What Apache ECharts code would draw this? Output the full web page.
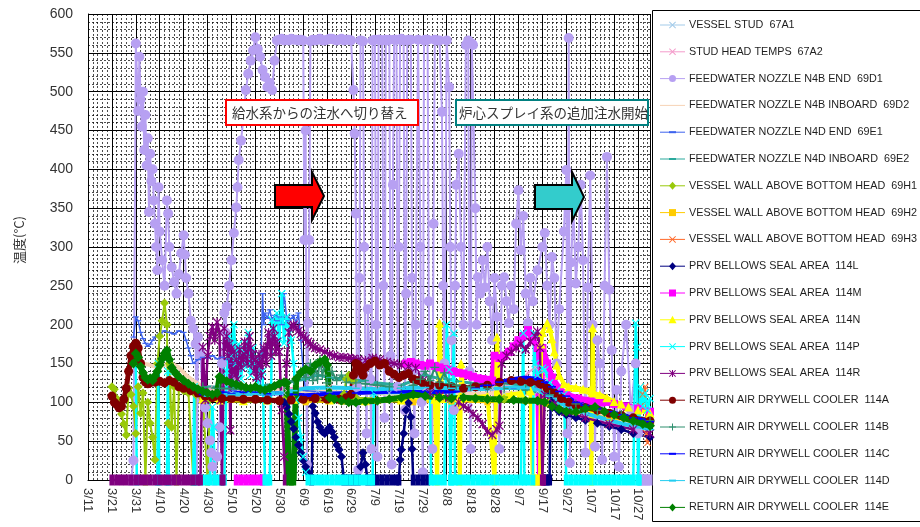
<!DOCTYPE html>
<html><head><meta charset="utf-8">
<script src="https://cdn.jsdelivr.net/npm/echarts/dist/echarts.min.js"></script>
<style>html,body{margin:0;padding:0;background:#fff}#chart{width:920px;height:527px}</style>
</head><body><div id="chart"></div>
<script>
// Reactor vessel temperatures, 2011-03-11 .. 2011-11-01 (day 0 = 3/11)
const tickLabels = ['3/11','3/21','3/31','4/10','4/20','4/30','5/10','5/20','5/30','6/9','6/19','6/29',
  '7/9','7/19','7/29','8/8','8/18','8/28','9/7','9/17','9/27','10/7','10/17','10/27'];
const yTicks = [0, 50, 100, 150, 200, 250, 300, 350, 400, 450, 500, 550, 600];

const vesselStud67A1 = [['4/28',115],['5/10',112],['5/20',110],['6/1',112],['6/15',115],['7/1',113],['7/15',112],['8/1',111],['8/15',110],['9/1',112],['9/15',114],['9/25',100],['10/5',88],['10/15',78],['10/25',70],['11/1',66]];

const studHead67A2 = [['5/1',118],['5/15',116],['6/1',118],['6/20',120],['7/10',119],['7/30',118],['8/15',117],['8/27',118],['8/29',60],['8/31',120],['9/8',128],['9/11',138],['9/14',145],['9/17',140],['9/19',130],['9/24',112],['10/5',95],['10/15',85],['10/25',78],['11/1',72]];

const fwN4BEnd69D1 = [['3/29',0],['3/30',25],['3/31',562],['4/1',475],['4/1.5',545],['4/2',490],['4/2.5',455],['4/3',500],['4/3.5',425],['4/4',470],['4/4.5',405],['4/5',440],['4/5.5',345],['4/6',420],['4/6.5',385],['4/7',400],['4/7.5',360],['4/8',330],['4/8.5',300],['4/9',270],['4/9.5',377],['4/10',320],['4/11',283],['4/12',250],['4/13',360],['4/13.5',343],['4/14',300],['4/15',274],['4/16',255],['4/17',240],['4/18',265],['4/19',292],['4/20',315],['4/20.5',290],['4/21',260],['4/22',240],['4/23',205],['4/24',195],['4/25',175],['4/25.5',0],['4/26',184],['4/27',163],['4/28',103],['4/29',93],['4/30',73],['5/1',51],['5/1.5',35],['5/2',17],['5/3',0],['5/4',30],['5/5',68],['5/6',150],['5/7',215],['5/7.5',190],['5/8',223],['5/9',250],['5/10',283],['5/11',318],['5/12',351],['5/12.5',377],['5/13',412],['5/14',437],['5/15',467],['5/16',502],['5/17',523],['5/18',540],['5/19',553],['5/20',570],['5/21',555],['5/22',545],['5/23',528],['5/24',519],['5/25',506],['5/26',511],['5/27',502],['5/28',540],['5/29',566],['5/30',567],['5/31',568],['6/1',566],['6/2',567],['6/3',566],['6/4',568],['6/5',567],['6/6',567],['6/7',566],['6/8',567],['6/9',566],['6/9.5',309],['6/10',450],['6/10.5',20],['6/11',202],['6/11.5',309],['6/12',565],['6/13',567],['6/14',566],['6/15',567],['6/16',568],['6/17',566],['6/18',566],['6/19',567],['6/20',568],['6/21',568],['6/22',567],['6/23',566],['6/24',567],['6/25',568],['6/26',566],['6/27',567],['6/28',567],['6/29',566],['6/30',502],['6/30.5',446],['7/1',343],['7/1.5',120],['7/2',13],['7/2.5',260],['7/3',566],['7/4',565],['7/4.5',300],['7/5',150],['7/5.5',60],['7/6',220],['7/7',130],['7/7.5',40],['7/8',566],['7/9',567],['7/9.5',200],['7/10',30],['7/10.5',567],['7/11',567],['7/12',566],['7/12.5',250],['7/13',80],['7/13.5',567],['7/14',566],['7/15',567],['7/15.5',160],['7/16',20],['7/16.5',380],['7/17',567],['7/18',567],['7/18.5',120],['7/19',300],['7/19.5',567],['7/20',568],['7/21',566],['7/21.5',90],['7/22',240],['7/22.5',566],['7/23',567],['7/24',567],['7/24.5',260],['7/25',140],['7/25.5',60],['7/26',200],['7/27',567],['7/28',300],['7/28.5',100],['7/29',10],['7/29.5',566],['7/30',567],['7/31',567],['7/31.5',230],['8/1',120],['8/2',40],['8/2.5',330],['8/3',567],['8/4',566],['8/5',566],['8/6',474],['8/6.5',250],['8/7',150],['8/8',566],['8/9',506],['8/9.5',300],['8/10',180],['8/11',90],['8/11.5',250],['8/12',380],['8/13',420],['8/14',300],['8/15',200],['8/16',560],['8/17',566],['8/17.5',140],['8/18',40],['8/18.5',562],['8/19',560],['8/20',350],['8/20.5',200],['8/21',261],['8/22',240],['8/23',283],['8/24',248],['8/25',300],['8/26',230],['8/27',180],['8/28',260],['8/29',210],['8/30',40],['8/31',250],['9/1',261],['9/2',230],['9/3',202],['9/4',250],['9/5',220],['9/6',330],['9/7',373],['9/8',296],['9/9',340],['9/10',240],['9/11',202],['9/12',260],['9/13',230],['9/15',270],['9/17',300],['9/18',318],['9/19',250],['9/20',200],['9/21',287],['9/22',260],['9/23',150],['9/24',220],['9/26',320],['9/27',399],['9/27.5',60],['9/28',569],['9/28.5',22],['9/29',280],['9/30',350],['10/1',253],['10/2',300],['10/3',380],['10/4',283],['10/5',35],['10/6',248],['10/7',392],['10/8',200],['10/9',43],['10/10',180],['10/11',150],['10/12',26],['10/13',250],['10/14',416],['10/15',245],['10/16',167],['10/17',30],['10/18',116],['10/19',17],['10/20',140],['10/22',200],['10/24',90],['10/26',150],['10/27',60],['10/28',0],['10/29',0],['10/30',0],['10/31',0],['11/1',0]];

const fwN4BInboard69D2 = [['3/29',150],['3/31',160],['4/3',150],['4/6',148],['4/9',145],['4/12',148],['4/15',150],['4/18',145],['4/21',135],['4/24',128],['4/27',122],['4/30',118],['5/10',116],['6/1',115],['7/1',112],['8/1',110],['9/1',112],['9/20',110],['10/10',85],['11/1',70]];

const fwN4DEnd69E1 = [['3/30',184],['3/31',210],['4/1',205],['4/2',190],['4/3',182],['4/4',176],['4/5',172],['4/6',175],['4/7',180],['4/8',184],['4/10',188],['4/12',192],['4/14',190],['4/16',188],['4/18',192],['4/20',190],['4/21',180],['4/22',170],['4/23',160],['4/24',150],['4/26',155],['4/28',158],['4/30',157],['5/2',160],['5/4',156],['5/6',158],['5/8',155],['5/10',150],['5/11',115],['5/15',112],['5/20',113],['5/22',112],['5/23',240],['5/23.5',200],['5/24',215],['5/25',208],['5/26',219],['5/27',206],['5/28',212],['5/29',205],['5/30',210],['5/31',200],['6/1',240],['6/2',210],['6/3',205],['6/4',208],['6/5',212],['6/6',202],['6/7',215],['6/8',180],['6/9',140],['6/10',115],['6/20',113],['7/10',114],['8/1',115],['8/20',116],['9/5',118],['9/20',112],['10/5',92],['10/20',80],['11/1',72]];

const fwN4DInboard69E2 = [['4/30',120],['5/15',118],['6/1',125],['6/10',130],['6/15',135],['6/20',132],['6/25',130],['6/29',128],['7/5',128],['7/10',125],['7/20',122],['7/25',128],['7/30',135],['8/3',132],['8/8',130],['8/13',127],['8/18',125],['8/25',123],['9/1',125],['9/8',122],['9/15',120],['9/22',112],['10/1',100],['10/10',92],['10/20',85],['11/1',78]];

const wall69H1 = [['3/21',120],['3/22',117],['3/23',105],['3/24',98],['3/25',85],['3/26',72],['3/27',58],['3/28',118],['3/29',110],['3/30',95],['3/31',60],['4/1',120],['4/2',86],['4/3',112],['4/4',0],['4/5',100],['4/6',73],['4/7',55],['4/8',26],['4/9',150],['4/10',185],['4/11',205],['4/12',228],['4/13',200],['4/13.5',73],['4/14',150],['4/15',68],['4/16',120],['4/17',0],['4/18',118],['4/20',115],['4/22',112],['4/24',0],['4/25',110],['4/28',105],['4/30',0],['5/1',104],['5/15',103],['6/1',103],['6/15',104],['6/26',110],['6/27',130],['6/28',135],['6/29',133],['6/30',128],['7/1',106],['7/20',104],['8/10',103],['9/1',104],['9/20',100],['10/10',88],['11/1',72]];

const wall69H2 = [['4/28',102],['5/10',103],['5/25',102],['6/10',100],['6/25',101],['7/10',102],['7/25',100],['8/10',101],['8/25',100],['9/10',102],['9/20',98],['10/1',88],['10/15',80],['11/1',72]];

const wall69H3 = [['10/28',95],['10/29',110],['10/30',120],['10/30.5',60],['10/31',48],['11/1',75]];

const prv114L = [['6/1',100],['6/2',94],['6/3',85],['6/4',75],['6/5',66],['6/6',55],['6/7',45],['6/8',35],['6/9',25],['6/10',17],['6/11',10],['6/12',5],['6/12.5',0],['6/13',95],['6/14',86],['6/15',75],['6/16',68],['6/17',62],['6/18',60],['6/19',64],['6/20',68],['6/21',62],['6/22',55],['6/23',45],['6/24',39],['6/25',30],['6/26',0],['6/28',0],['6/30',0],['7/2',0],['7/3',17],['7/4',35],['7/5',20],['7/6',0],['7/8',0],['7/10',0],['7/12',0],['7/14',0],['7/16',0],['7/18',0],['7/19',0],['7/19.5',26],['7/20',39],['7/21',60],['7/22',90],['7/23',99],['7/24',81],['7/24.5',40],['7/25',0],['7/27',0],['7/29',0],['7/31',0],['7/31.5',null],['9/17',0],['9/18',0],['9/19',0],['9/20',0],['9/20.5',110],['9/21',100],['9/22',94],['9/24',88],['9/27',84],['10/1',80],['10/5',77],['10/10',73],['10/15',69],['10/20',65],['10/25',60],['11/1',55]];

const prv114M = [['5/12',0],['5/14',0],['5/16',0],['5/18',0],['5/20',0],['5/22',0],['5/23',0],['5/23.5',null],['7/22',150],['7/24',152],['7/26',150],['7/28',148],['7/30',147],['8/1',150],['8/3',147],['8/5',145],['8/7',143],['8/9',142],['8/11',140],['8/13',138],['8/15',137],['8/17',135],['8/19',133],['8/21',131],['8/23',130],['8/25',129],['8/27',128],['8/28',160],['8/30',157],['9/1',160],['9/3',165],['9/5',172],['9/7',180],['9/9',185],['9/11',193],['9/13',180],['9/15',170],['9/16',0],['9/16.5',0],['9/17',170],['9/19',150],['9/21',132],['9/24',118],['9/27',110],['10/2',105],['10/7',102],['10/12',100],['10/17',98],['10/22',95],['10/27',92],['11/1',88]];

const prv114N = [['4/28',105],['5/5',103],['5/15',102],['5/25',103],['6/5',104],['6/20',103],['7/5',102],['7/20',103],['8/3',104],['8/4',0],['8/5',202],['8/6',105],['8/13',106],['8/13.5',0],['8/14',150],['8/15',106],['8/20',107],['8/25',108],['8/28',0],['8/29',184],['8/30',108],['9/4',110],['9/8',112],['9/12',115],['9/13',0],['9/14',0],['9/15',0],['9/16',0],['9/16.5',175],['9/17',190],['9/19',202],['9/20',195],['9/21',182],['9/22',165],['9/23',148],['9/24',135],['9/26',124],['9/28',120],['10/1',119],['10/4',117],['10/7',116],['10/7.5',0],['10/8',196],['10/8.5',112],['10/11',110],['10/14',106],['10/17',101],['10/20',98],['10/23',94],['10/27',90],['11/1',86]];

const prv114P = [['3/31',150],['3/31.4',0],['4/9',0],['4/9.4',150],['4/9.8',0],['4/13',0],['4/13.4',140],['4/13.8',0],['4/24',0],['4/24.4',120],['4/24.8',0],['4/28',0],['4/30',0],['5/1',0],['5/2',94],['5/2.5',68],['5/3',0],['5/5',0],['5/7',0],['5/8',140],['5/9',185],['5/10',160],['5/11',200],['5/12',150],['5/13',175],['5/14',130],['5/15',165],['5/16',145],['5/17',190],['5/18',135],['5/19',170],['5/20',150],['5/21',125],['5/22',160],['5/23',140],['5/24',0],['5/25',0],['5/26',0],['5/27',206],['5/28',190],['5/29',215],['5/30',180],['5/31',240],['6/1',176],['6/2',210],['6/3',195],['6/4',180],['6/5',150],['6/6',103],['6/7',80],['6/8',55],['6/9',30],['6/10',10],['6/11',0],['6/13',0],['6/15',0],['6/17',0],['6/19',0],['6/21',0],['6/23',0],['6/25',0],['6/27',0],['6/29',0],['7/1',0],['7/3',0],['7/5',0],['7/7',0],['7/8',0],['7/8.5',112],['8/1',112],['8/1.5',0],['8/3',0],['8/5',0],['8/7',0],['8/8',200],['8/9',142],['8/9.5',0],['8/10',0],['8/11',189],['8/11.5',0],['8/13',0],['8/15',0],['8/17',0],['8/19',0],['8/21',0],['8/23',0],['8/25',0],['8/27',0],['8/29',0],['8/31',0],['9/2',0],['9/4',0],['9/6',0],['9/8',0],['9/9',189],['9/9.5',0],['9/11',0],['9/13',0],['9/13.5',189],['9/14',150],['9/15',135],['9/17',144],['9/18',142],['9/20',125],['9/23',115],['9/26',110],['9/27',0],['9/29',0],['10/1',0],['10/3',0],['10/5',0],['10/7',0],['10/9',0],['10/11',0],['10/13',0],['10/15',0],['10/17',0],['10/19',0],['10/21',0],['10/23',0],['10/25',0],['10/26',202],['10/26.5',171],['10/27',0],['10/27.5',0],['10/28',120],['10/29',95],['10/30',112],['10/31',90],['11/1',105]];

const prv114R = [['3/21',0],['3/23',0],['3/25',0],['3/27',0],['3/29',0],['3/31',0],['4/2',0],['4/4',0],['4/6',0],['4/8',0],['4/10',0],['4/12',0],['4/14',0],['4/16',0],['4/18',0],['4/20',0],['4/22',0],['4/24',0],['4/26',0],['4/27',0],['4/28',171],['4/29',103],['4/30',160],['5/1',185],['5/2',197],['5/3',180],['5/4',203],['5/5',190],['5/5.5',103],['5/6',0],['5/6.5',0],['5/7',195],['5/7.5',172],['5/8',185],['5/8.5',160],['5/9',175],['5/9.5',64],['5/10',170],['5/10.5',140],['5/11',165],['5/11.5',135],['5/12',155],['5/12.5',130],['5/13',150],['5/13.5',168],['5/14',145],['5/14.5',160],['5/15',155],['5/15.5',178],['5/16',165],['5/16.5',150],['5/17',172],['5/17.5',185],['5/18',170],['5/18.5',150],['5/19',162],['5/19.5',140],['5/20',155],['5/20.5',132],['5/21',150],['5/21.5',162],['5/22',148],['5/22.5',135],['5/23',155],['5/23.5',170],['5/24',165],['5/24.5',150],['5/25',172],['5/25.5',190],['5/26',180],['5/26.5',160],['5/27',175],['5/27.5',195],['5/28',185],['5/28.5',165],['5/29',178],['5/30',165],['5/31',90],['6/1',30],['6/1.5',0],['6/2',150],['6/3',190],['6/4',198],['6/5',200],['6/6',196],['6/7',192],['6/8',188],['6/9',185],['6/10',182],['6/11',178],['6/12',175],['6/13',172],['6/14',170],['6/16',168],['6/18',165],['6/20',162],['6/22',160],['6/24',158],['6/26',158],['6/28',157],['6/30',156],['7/2',155],['7/5',154],['7/8',157],['7/11',155],['7/14',152],['7/17',150],['7/20',148],['7/23',146],['7/26',144],['7/29',128],['8/1',112],['8/5',108],['8/9',106],['8/13',100],['8/15',95],['8/17',92],['8/19',85],['8/21',80],['8/23',72],['8/25',62],['8/27',58],['8/29',65],['8/30',70],['8/31',150],['9/2',160],['9/4',165],['9/6',170],['9/8',175],['9/10',168],['9/12',178],['9/14',185],['9/15',191],['9/16',170],['9/17',0],['9/17.5',0],['9/18',110],['9/22',98],['9/27',88],['10/5',80],['10/15',72],['10/25',65],['11/1',60]];

const cooler114A = [['3/21',108],['3/22',100],['3/23',97],['3/24',93],['3/25',95],['3/26',104],['3/27',118],['3/28',140],['3/29',160],['3/30',172],['3/31',176],['4/1',170],['4/2',150],['4/3',132],['4/4',126],['4/5',124],['4/6',125],['4/8',126],['4/10',127],['4/12',125],['4/14',128],['4/16',126],['4/18',120],['4/20',118],['4/23',115],['4/26',112],['4/29',108],['5/2',106],['5/6',105],['5/10',105],['5/15',104],['5/20',104],['5/25',103],['5/30',102],['6/4',103],['6/9',104],['6/14',105],['6/19',104],['6/24',104],['6/27',106],['6/29',110],['6/30',135],['7/1',150],['7/2',148],['7/3',140],['7/4',135],['7/5',145],['7/7',150],['7/9',153],['7/11',148],['7/13',150],['7/15',140],['7/17',136],['7/19',132],['7/21',135],['7/23',137],['7/25',130],['7/27',128],['7/29',125],['8/1',122],['8/5',122],['8/10',120],['8/15',118],['8/20',120],['8/25',122],['8/30',126],['9/4',128],['9/8',127],['9/12',126],['9/16',124],['9/19',118],['9/22',112],['9/25',105],['9/28',100],['10/1',96],['10/5',93],['10/10',90],['10/15',86],['10/20',83],['10/25',80],['11/1',76]];

const cooler114B = [['4/28',120],['5/5',118],['5/15',117],['5/25',118],['6/1',122],['6/5',128],['6/8',140],['6/10',132],['6/12',150],['6/13',128],['6/14',145],['6/15',130],['6/16',155],['6/17',135],['6/18',148],['6/19',125],['6/21',140],['6/23',128],['6/25',135],['6/27',126],['7/1',125],['7/5',124],['7/10',122],['7/15',120],['7/20',118],['7/25',122],['7/28',130],['7/30',140],['8/1',128],['8/3',145],['8/5',126],['8/7',138],['8/9',124],['8/12',122],['8/18',120],['8/25',118],['9/1',118],['9/10',116],['9/20',110],['10/1',98],['10/10',90],['10/20',84],['11/1',76]];

const cooler114C = [['4/28',110],['5/1',112],['5/5',112],['5/10',111],['5/15',113],['5/20',112],['5/25',111],['5/30',112],['6/5',110],['6/10',109],['6/20',111],['7/1',112],['7/10',113],['7/20',114],['7/30',113],['8/10',114],['8/20',118],['8/25',122],['8/30',126],['9/5',130],['9/10',132],['9/15',130],['9/18',126],['9/21',120],['9/24',114],['9/27',108],['10/1',100],['10/5',96],['10/10',92],['10/15',88],['10/20',84],['10/25',80],['11/1',75]];

const cooler114D = [['4/30',108],['5/10',110],['5/20',111],['5/30',112],['6/5',115],['6/10',118],['6/20',119],['7/1',118],['7/10',117],['7/20',118],['7/30',119],['8/10',118],['8/20',117],['8/30',118],['9/5',119],['9/10',118],['9/15',116],['9/20',108],['9/25',98],['10/1',90],['10/7',84],['10/14',78],['10/21',72],['10/28',68],['11/1',65]];

const cooler114E = [['3/30',150],['3/31',163],['4/1',158],['4/2',146],['4/3',138],['4/4',132],['4/5',129],['4/6',131],['4/7',128],['4/8',134],['4/9',140],['4/10',148],['4/11',156],['4/12',163],['4/13',167],['4/14',155],['4/15',145],['4/16',140],['4/17',136],['4/18',133],['4/20',128],['4/22',124],['4/24',120],['4/26',117],['4/28',114],['4/30',112],['5/2',110],['5/4',112],['5/5',133],['5/6',130],['5/8',127],['5/10',125],['5/12',123],['5/14',121],['5/16',119],['5/18',118],['5/20',120],['5/22',117],['5/24',116],['5/26',118],['5/28',121],['5/30',124],['6/1',126],['6/2',125],['6/3',0],['6/4',0],['6/5',0],['6/6',130],['6/8',138],['6/10',143],['6/12',140],['6/14',148],['6/16',152],['6/18',155],['6/19',148],['6/20',106],['6/22',104],['6/25',102],['6/28',100],['7/1',100],['7/5',101],['7/10',102],['7/15',104],['7/20',106],['7/25',110],['7/30',108],['8/5',106],['8/10',105],['8/15',106],['8/20',105],['8/25',104],['8/30',104],['9/5',103],['9/10',102],['9/15',102],['9/18',100],['9/21',95],['9/24',91],['9/27',88],['10/1',88],['10/5',92],['10/9',94],['10/13',88],['10/17',84],['10/21',80],['10/25',76],['10/29',72],['11/1',70]];

// ---- helpers ----
const BASE = Date.UTC(2011, 2, 11);
const DAY = 864e5;
function dayOf(s) {
  const i = s.indexOf('/');
  return (Date.UTC(2011, +s.slice(0, i) - 1, 1) - BASE) / DAY + parseFloat(s.slice(i + 1)) - 1;
}
function toData(points) {
  return points.map(([date, v]) => {
    const x = dayOf(date);
    if (v === null) return [x, '-'];
    if (v === 0) return { value: [x, 0], symbol: 'rect', symbolSize: [5, 11] };
    return [x, v];
  });
}

// marker outlines on a 10x10 box
const X_PTS = [[0,1],[1,0],[5,4],[9,0],[10,1],[6,5],[10,9],[9,10],[5,6],[1,10],[0,9],[4,5]];
const PLUS_PTS = [[4.3,0],[5.7,0],[5.7,4.3],[10,4.3],[10,5.7],[5.7,5.7],[5.7,10],[4.3,10],[4.3,5.7],[0,5.7],[0,4.3],[4.3,4.3]];
const toPath = pts => 'M' + pts.map(p => p.join(',')).join('L') + 'Z';
const PATHS = {
  x: toPath(X_PTS),
  star: toPath(X_PTS) + ' M4.3,0H5.7V10H4.3Z',
  plus: toPath(PLUS_PTS),
  dash: 'M0,4H10V6H0Z',
  none: 'M0,5L10,5'
};
const symbolOf = k => PATHS[k] ? 'path://' + PATHS[k] : k;

const seriesDefs = [
  { name: 'VESSEL STUD  67A1', data: vesselStud67A1, color: '#a3cbe9', mark: 'x', size: 5, width: 2 },
  { name: 'STUD HEAD TEMPS  67A2', data: studHead67A2, color: '#f49ccb', mark: 'x', size: 6, width: 2 },
  { name: 'FEEDWATER NOZZLE N4B END  69D1', data: fwN4BEnd69D1, color: '#b7a0f2', mark: 'circle', size: 10, width: 2 },
  { name: 'FEEDWATER NOZZLE N4B INBOARD  69D2', data: fwN4BInboard69D2, color: '#f6d3b6', mark: 'none', size: 4, width: 4 },
  { name: 'FEEDWATER NOZZLE N4D END  69E1', data: fwN4DEnd69E1, color: '#3d63ee', mark: 'dash', size: 6, width: 1.5 },
  { name: 'FEEDWATER NOZZLE N4D INBOARD  69E2', data: fwN4DInboard69E2, color: '#2aa99c', mark: 'dash', size: 7, width: 3 },
  { name: 'VESSEL WALL ABOVE BOTTOM HEAD  69H1', data: wall69H1, color: '#99c90a', mark: 'diamond', size: 9, width: 2 },
  { name: 'VESSEL WALL ABOVE BOTTOM HEAD  69H2', data: wall69H2, color: '#ffcc00', mark: 'rect', size: 6, width: 2 },
  { name: 'VESSEL WALL ABOVE BOTTOM HEAD  69H3', data: wall69H3, color: '#ff6a2a', mark: 'x', size: 7, width: 2 },
  { name: 'PRV BELLOWS SEAL AREA  114L', data: prv114L, color: '#000080', mark: 'diamond', size: 9, width: 2.5 },
  { name: 'PRV BELLOWS SEAL AREA  114M', data: prv114M, color: '#ff00ff', mark: 'rect', size: 8, width: 6 },
  { name: 'PRV BELLOWS SEAL AREA  114N', data: prv114N, color: '#ffff00', mark: 'triangle', size: 9, width: 4 },
  { name: 'PRV BELLOWS SEAL AREA  114P', data: prv114P, color: '#00ffff', mark: 'x', size: 8, width: 2.5 },
  { name: 'PRV BELLOWS SEAL AREA  114R', data: prv114R, color: '#800080', mark: 'star', size: 9, width: 2.5 },
  { name: 'RETURN AIR DRYWELL COOLER  114A', data: cooler114A, color: '#800000', mark: 'circle', size: 9, width: 5 },
  { name: 'RETURN AIR DRYWELL COOLER  114B', data: cooler114B, color: '#2e8f6e', mark: 'plus', size: 9, width: 2 },
  { name: 'RETURN AIR DRYWELL COOLER  114C', data: cooler114C, color: '#0000ff', mark: 'dash', size: 8, width: 4 },
  { name: 'RETURN AIR DRYWELL COOLER  114D', data: cooler114D, color: '#22cdf0', mark: 'dash', size: 8, width: 4 },
  { name: 'RETURN AIR DRYWELL COOLER  114E', data: cooler114E, color: '#008000', mark: 'diamond', size: 10, width: 6 }
];

const series = seriesDefs.map(d => ({
  name: d.name, type: 'line', data: toData(d.data),
  symbol: symbolOf(d.mark), symbolSize: d.size, symbolKeepAspect: true,
  clip: false, silent: true,
  lineStyle: { color: d.color, width: d.width },
  itemStyle: { color: d.color },
  emphasis: { disabled: true }
}));

// Legend box: line sample + marker + label for each series, drawn as graphics.
function scalePts(pts, cx, cy, s) {
  return pts.map(([px, py]) => [cx + (px - 5) * s / 10, cy + (py - 5) * s / 10]);
}
function legendMarker(kind, cx, cy, color) {
  const s = 7;
  const st = { fill: color };
  switch (kind) {
    case 'circle': return [{ type: 'circle', shape: { cx, cy, r: 3.5 }, style: st }];
    case 'diamond': return [{ type: 'polygon', shape: { points: [[cx, cy - 4], [cx + 3.5, cy], [cx, cy + 4], [cx - 3.5, cy]] }, style: st }];
    case 'rect': return [{ type: 'rect', shape: { x: cx - 3.5, y: cy - 3.5, width: 7, height: 7 }, style: st }];
    case 'triangle': return [{ type: 'polygon', shape: { points: [[cx, cy - 4], [cx + 4, cy + 3.5], [cx - 4, cy + 3.5]] }, style: st }];
    case 'dash': return [{ type: 'rect', shape: { x: cx - 3.5, y: cy - 1, width: 7, height: 2 }, style: st }];
    case 'x': return [{ type: 'polygon', shape: { points: scalePts(X_PTS, cx, cy, s) }, style: st }];
    case 'plus': return [{ type: 'polygon', shape: { points: scalePts(PLUS_PTS, cx, cy, s) }, style: st }];
    case 'star': return [
      { type: 'polygon', shape: { points: scalePts(X_PTS, cx, cy, s) }, style: st },
      { type: 'rect', shape: { x: cx - 0.5, y: cy - s / 2, width: 1, height: s }, style: st }
    ];
    default: return [];
  }
}
const legendChildren = [
  { type: 'rect', shape: { x: 652.5, y: 10.5, width: 300, height: 511 }, style: { fill: '#fff', stroke: '#000', lineWidth: 1 } }
];
seriesDefs.forEach((d, i) => {
  const cy = 25 + i * 26.8;
  legendChildren.push({ type: 'line', shape: { x1: 660, y1: cy, x2: 685, y2: cy }, style: { stroke: d.color, lineWidth: 1 } });
  legendMarker(d.mark, 672.5, cy, d.color).forEach(m => legendChildren.push(m));
  legendChildren.push({ type: 'text', style: { x: 689, y: cy, text: d.name, fontSize: 10.8, fontFamily: 'Liberation Sans, Arial, sans-serif', fill: '#1e1e1e', verticalAlign: 'middle' } });
});

const chart = echarts.init(document.getElementById('chart'));
chart.setOption({
  animation: false,
  backgroundColor: '#fff',
  grid: { left: 88, right: 270, top: 14, bottom: 47 },
  legend: { show: false },
  xAxis: {
    type: 'value', min: 0, max: 235, interval: 10,
    axisLine: { show: true, onZero: false, lineStyle: { color: '#000', width: 1 } },
    axisTick: { show: false },
    axisLabel: {
      rotate: -90, margin: 8, fontSize: 13, color: '#333', fontFamily: 'Liberation Sans, Arial, sans-serif',
      formatter: v => (v % 10 === 0 && tickLabels[v / 10]) ? tickLabels[v / 10] : ''
    },
    splitLine: { show: true, lineStyle: { color: '#000', width: 1 } },
    minorTick: { show: false, splitNumber: 5 },
    minorSplitLine: { show: true, lineStyle: { color: '#000', width: 1, type: [2, 2], opacity: 0.7 } }
  },
  yAxis: {
    type: 'value', min: yTicks[0], max: yTicks[yTicks.length - 1], interval: 50,
    axisLine: { show: true, lineStyle: { color: '#000', width: 1 } },
    axisTick: { show: false },
    axisLabel: { margin: 15, fontSize: 14, color: '#333', fontFamily: 'Liberation Sans, Arial, sans-serif' },
    splitLine: { show: true, lineStyle: { color: '#000', width: 1 } },
    minorTick: { show: false, splitNumber: 5 },
    minorSplitLine: { show: true, lineStyle: { color: '#000', width: 1, type: [2, 2], opacity: 0.7 } }
  },
  graphic: [
    { type: 'rect', z: 15, shape: { x: 226, y: 100, width: 192, height: 25 }, style: { fill: '#fff', stroke: '#ff0000', lineWidth: 2 } },
    { type: 'text', z: 16, style: { x: 232, y: 113, text: '給水系からの注水へ切り替え', fontSize: 13.5, fontFamily: 'Noto Sans CJK JP', fill: '#333', verticalAlign: 'middle' } },
    { type: 'rect', z: 15, shape: { x: 456, y: 100, width: 192, height: 25 }, style: { fill: '#fff', stroke: '#008080', lineWidth: 2 } },
    { type: 'text', z: 16, style: { x: 459, y: 113, text: '炉心スプレイ系の追加注水開始', fontSize: 13.5, fontFamily: 'Noto Sans CJK JP', fill: '#333', verticalAlign: 'middle' } },
    { type: 'polygon', z: 15, shape: { points: [[275, 185], [312, 185], [312, 172], [324, 196], [312, 220], [312, 207], [275, 207]] }, style: { fill: '#ff0000', stroke: '#000', lineWidth: 2 } },
    { type: 'polygon', z: 15, shape: { points: [[535, 185], [572, 185], [572, 172], [584, 197], [572, 221], [572, 209], [535, 209]] }, style: { fill: '#33cccc', stroke: '#000', lineWidth: 2 } },
    { type: 'text', z: 16, x: 19, y: 240, rotation: Math.PI / 2, style: { x: 0, y: 0, text: '温度(°C)', fontSize: 13, fontFamily: 'Noto Sans CJK JP', fill: '#333', align: 'center', verticalAlign: 'middle' } },
    { type: 'group', z: 30, children: legendChildren }
  ],
  series
});
</script></body></html>
